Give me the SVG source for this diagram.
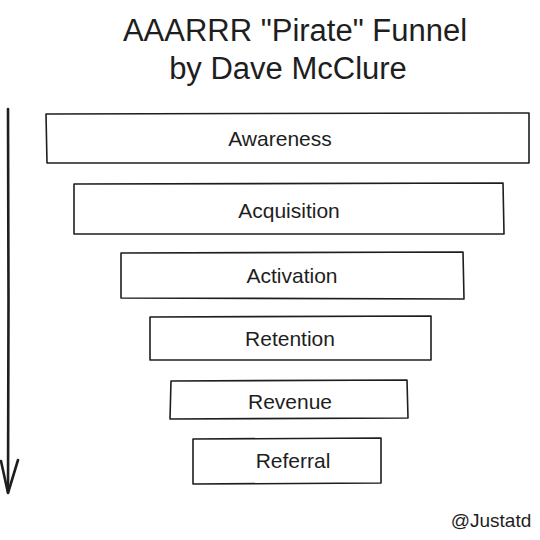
<svg xmlns="http://www.w3.org/2000/svg" width="540" height="540" viewBox="0 0 540 540">
<style>
.box{fill:#ffffff;stroke:#1e1e1e;stroke-width:1.6;stroke-linejoin:round}
.lbl{font-family:"Liberation Sans",Arial,sans-serif;font-size:21px;fill:#1e1e1e;text-anchor:middle}
.title{font-family:"Liberation Sans",Arial,sans-serif;font-size:31px;fill:#1e1e1e;text-anchor:middle}
.sig{font-family:"Liberation Sans",Arial,sans-serif;font-size:19px;fill:#1e1e1e;text-anchor:middle}
.arr{fill:none;stroke:#1e1e1e;stroke-width:2.6;stroke-linecap:round;stroke-linejoin:round}
</style>
<rect width="540" height="540" fill="#ffffff"/>
<g id="title">
<text class="title" x="295" y="41">AAARRR "Pirate" Funnel</text>
<text class="title" x="288" y="79">by Dave McClure</text>
</g>
<g id="connectors">
<path class="arr" d="M8 109 L8.5 300 L8 492"/>
<path class="arr" d="M1 461 L8 493 L18 460"/>
</g>
<g id="awareness">
<path class="box" d="M46 114 L529 113 L529 163 L47 163 Z"/>
<text class="lbl" x="280" y="146">Awareness</text>
</g>
<g id="acquisition">
<path class="box" d="M74 184 L503 183 L504 234 L74 234 Z"/>
<text class="lbl" x="289" y="218">Acquisition</text>
</g>
<g id="activation">
<path class="box" d="M121 253 L463 252 L464 299 L121 298 Z"/>
<text class="lbl" x="292" y="283">Activation</text>
</g>
<g id="retention">
<path class="box" d="M150 317 L431 316 L431 360 L150 360 Z"/>
<text class="lbl" x="290" y="346">Retention</text>
</g>
<g id="revenue">
<path class="box" d="M171 381 L407 380 L408 418 L170 419 Z"/>
<text class="lbl" x="290" y="409">Revenue</text>
</g>
<g id="referral">
<path class="box" d="M193 439 L381 438 L381 483 L193 484 Z"/>
<text class="lbl" x="293" y="468">Referral</text>
</g>
<g id="signature">
<text class="sig" x="491" y="527">@Justatd</text>
</g>
</svg>
